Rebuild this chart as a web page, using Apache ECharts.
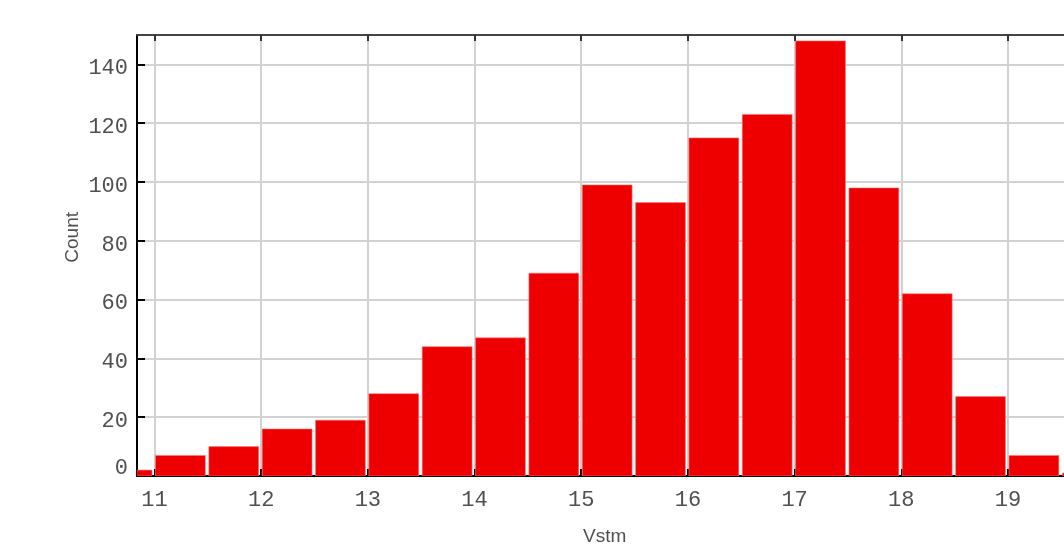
<!DOCTYPE html>
<html>
<head>
<meta charset="utf-8">
<script src="https://cdn.jsdelivr.net/npm/echarts@6/dist/echarts.min.js"></script>
<style>html,body{margin:0;padding:0;background:#fff}#c{width:1064px;height:556px}</style>
</head>
<body>
<div id="c"></div>
<script>
const binStarts = [10.5, 11, 11.5, 12, 12.5, 13, 13.5, 14, 14.5, 15, 15.5, 16, 16.5, 17, 17.5, 18, 18.5, 19, 19.5];
const counts = [2, 7, 10, 16, 19, 28, 44, 47, 69, 99, 93, 115, 123, 148, 98, 62, 27, 7, 1];
const binWidth = 0.5;
const xTicks = [11, 12, 13, 14, 15, 16, 17, 18, 19];
const yTicks = [0, 20, 40, 60, 80, 100, 120, 140];
const xName = 'Vstm';
const yName = 'Count';

const chart = echarts.init(document.getElementById('c'), null, {renderer: 'canvas'});
const labelFont = {fontFamily: 'Liberation Mono', fontSize: 22, color: '#505050'};
const xMin = 10.836, xMax = 19.525;

chart.setOption({
  animation: false,
  backgroundColor: '#ffffff',
  grid: {left: 137, top: 35, right: 0, bottom: 80, containLabel: false},
  xAxis: [{
    type: 'value', position: 'bottom', min: xMin, max: xMax,
    axisLine: {show: true, onZero: false, lineStyle: {color: '#000', width: 2}},
    axisTick: {show: true, inside: true, length: 7, customValues: xTicks, lineStyle: {color: '#000', width: 2}},
    axisLabel: Object.assign({show: true, margin: 13, customValues: xTicks, formatter: v => String(v)}, labelFont),
    splitLine: {show: true, lineStyle: {color: '#d2d2d2', width: 2}}
  }, {
    type: 'value', position: 'top', min: xMin, max: xMax,
    axisLine: {show: true, onZero: false, lineStyle: {color: '#444', width: 2}},
    axisTick: {show: true, inside: true, length: 6, customValues: xTicks, lineStyle: {color: '#333', width: 2}},
    axisLabel: {show: false},
    splitLine: {show: false}
  }],
  yAxis: {
    type: 'value', min: 0, max: 150,
    axisLine: {show: true, onZero: false, lineStyle: {color: '#000', width: 2}},
    axisTick: {show: true, inside: true, length: 8, customValues: yTicks, lineStyle: {color: '#000', width: 2}},
    axisLabel: Object.assign({
      show: true, margin: 9, customValues: yTicks,
      formatter: v => v === 0 ? '{z|0}' : '{n|' + v + '}',
      rich: {
        n: Object.assign({padding: [8, 0, 0, 0]}, labelFont),
        z: Object.assign({padding: [0, 0, 16, 0]}, labelFont)
      }
    }, labelFont),
    splitLine: {show: true, lineStyle: {color: '#d2d2d2', width: 2}}
  },
  graphic: [
    {type: 'text', left: 63, top: 212, rotation: Math.PI / 2,
     style: {text: yName, font: '19px "Liberation Sans"', fill: '#505050'}},
    {type: 'text', left: 583, top: 527,
     style: {text: xName, font: '19px "Liberation Sans"', fill: '#505050'}}
  ],
  series: [{
    type: 'custom',
    clip: true,
    xAxisIndex: 0,
    data: binStarts.map((s, i) => [s, s + binWidth, counts[i]]),
    encode: {x: [0, 1], y: 2},
    renderItem: function (params, api) {
      const p0 = api.coord([api.value(0), api.value(2)]);
      const p1 = api.coord([api.value(1), 0]);
      return {
        type: 'rect',
        shape: {x: p0[0] + 1, y: p0[1], width: p1[0] - p0[0] - 3.5, height: p1[1] - p0[1]},
        style: {fill: '#ee0000', stroke: 'rgba(255,120,120,0.6)', lineWidth: 1}
      };
    }
  }]
});
</script>
</body>
</html>
